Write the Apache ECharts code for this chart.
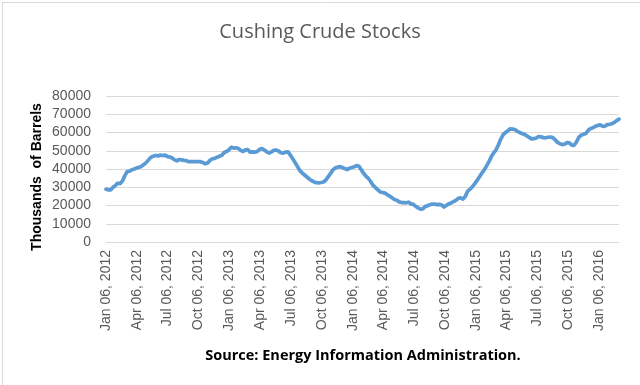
<!DOCTYPE html>
<html>
<head>
<meta charset="utf-8">
<script src="https://cdn.jsdelivr.net/npm/echarts@6/dist/echarts.min.js"></script>
<style>
html,body{margin:0;padding:0;background:#fff;}
#chart{width:640px;height:385px;}
</style>
</head>
<body>
<div id="chart"></div>
<script>
// Weekly Cushing crude stocks (thousand barrels), first week Jan 06, 2012, every 7 days
var startDate = [2012, 0, 6];
var stocks2012 = [29000,28500,28600,30000,31000,32200,32000,33500,36500,38600,38800,39600,40000,40600,41000,41400,42500,43500,45000,46500,47000,47400,47200,47600,47400,47600,46800,46600,46000,45000,44500,45200,45000,44700,44600,44000,44000,44100,44000,44000,44000,43500,42900,43300,44800,45600,45800,46500,47000,47500,49000,49600];
var stocks2013 = [50500,51900,51500,51600,51200,50200,49600,50500,50600,49200,49400,49200,49600,50800,51200,50400,49400,48800,49400,50200,50400,49800,48900,48700,49300,49400,47500,45600,43500,41400,39200,37800,36700,35600,34500,33600,32900,32500,32400,32600,32900,34000,35800,37600,39500,40600,41000,41300,40800,40300,39700,40400];
var stocks2014 = [40800,41200,41900,41500,39500,37600,36000,34800,33000,31000,29800,28600,27400,27100,26800,25900,25100,24200,23300,22900,22000,21600,21600,21500,21800,20900,20600,19600,18700,18000,18200,19400,19900,20400,20800,20700,20500,20600,20300,19200,20100,20900,21400,22100,22800,23900,24200,23500,25000,27900,29000,30300];
var stocks2015 = [32000,33800,35800,37800,39500,41700,44000,46800,48800,50500,53300,56400,58800,60000,61000,62000,61800,61600,60600,60000,59400,59000,58200,57300,56500,56600,57000,57800,57600,57200,57100,57400,57500,57200,56000,54600,53900,53400,53600,54500,54300,53100,53000,54800,57300,58500,59000,59500,61200,62200,62600,63400];
var stocks2016 = [63900,64200,63500,63400,64300,64500,64800,65500,66500,67300];
var stocks = [].concat(stocks2012, stocks2013, stocks2014, stocks2015, stocks2016);

// Quarterly tick labels
var tickDates = [[2012,0,6],[2012,3,6],[2012,6,6],[2012,9,6],[2013,0,6],[2013,3,6],[2013,6,6],[2013,9,6],[2014,0,6],[2014,3,6],[2014,6,6],[2014,9,6],[2015,0,6],[2015,3,6],[2015,6,6],[2015,9,6],[2016,0,6]];
var monthNames = ['Jan','Feb','Mar','Apr','May','Jun','Jul','Aug','Sep','Oct','Nov','Dec'];
var yTicks = [0,10000,20000,30000,40000,50000,60000,70000,80000];

var t0 = new Date(startDate[0], startDate[1], startDate[2]).getTime();
var seriesData = stocks.map(function (v, i) {
  var d = new Date(t0);
  d.setDate(d.getDate() + 7 * i);
  return [d.getTime(), v];
});
var tEnd = seriesData[seriesData.length - 1][0];
var tickValues = tickDates.map(function (d) { return new Date(d[0], d[1], d[2]).getTime(); });

var chart = echarts.init(document.getElementById('chart'), null, {renderer: 'canvas'});
chart.setOption({
  animation: false,
  backgroundColor: '#fff',
  title: {
    text: 'Cushing Crude Stocks',
    left: 'center',
    top: 17,
    textStyle: {fontFamily: 'Open Sans', fontSize: 20, fontWeight: 'normal', color: '#595959'}
  },
  grid: {left: 106, right: 21, top: 96, bottom: 143, containLabel: false},
  xAxis: {
    type: 'value',
    min: t0,
    max: tEnd,
    axisLine: {show: true, lineStyle: {color: '#d9d9d9', width: 1}},
    axisTick: {show: false},
    splitLine: {show: false},
    axisLabel: {
      customValues: tickValues,
      rotate: 90,
      margin: 8,
      fontFamily: 'Liberation Sans',
      fontSize: 14,
      color: '#595959',
      formatter: function (val) {
        var d = new Date(val);
        var dd = d.getDate();
        return monthNames[d.getMonth()] + ' ' + (dd < 10 ? '0' + dd : dd) + ', ' + d.getFullYear();
      }
    }
  },
  yAxis: {
    type: 'value',
    min: yTicks[0],
    max: yTicks[yTicks.length - 1],
    interval: 10000,
    axisLine: {show: false},
    axisTick: {show: false},
    splitLine: {show: true, lineStyle: {color: '#d9d9d9', width: 1}},
    axisLabel: {fontFamily: 'Liberation Sans', fontSize: 14, color: '#595959', margin: 15,
      formatter: function (v) { return String(v); }}
  },
  graphic: [
    {type: 'rect', left: 0, top: 0, shape: {x: 0.5, y: 0.5, width: 639, height: 384}, style: {fill: null, stroke: '#d9d9d9', lineWidth: 1}, silent: true},
    {type: 'text', x: 37, y: 177, rotation: Math.PI / 2, style: {text: 'Thousands  of Barrels', fontFamily: 'Liberation Sans', fontWeight: 'bold', fontSize: 14, fill: '#000', align: 'center', verticalAlign: 'middle'}},
    {type: 'text', x: 363, y: 356, style: {text: 'Source: Energy Information Administration.', fontFamily: 'Open Sans', fontWeight: 'bold', fontSize: 14.5, fill: '#000', align: 'center', verticalAlign: 'middle'}}
  ],
  series: [{
    type: 'line',
    data: seriesData,
    showSymbol: false,
    symbol: 'none',
    lineStyle: {color: '#5b9bd5', width: 3.75, join: 'round', cap: 'round'},
    itemStyle: {color: '#5b9bd5'}
  }]
});
</script>
</body>
</html>
